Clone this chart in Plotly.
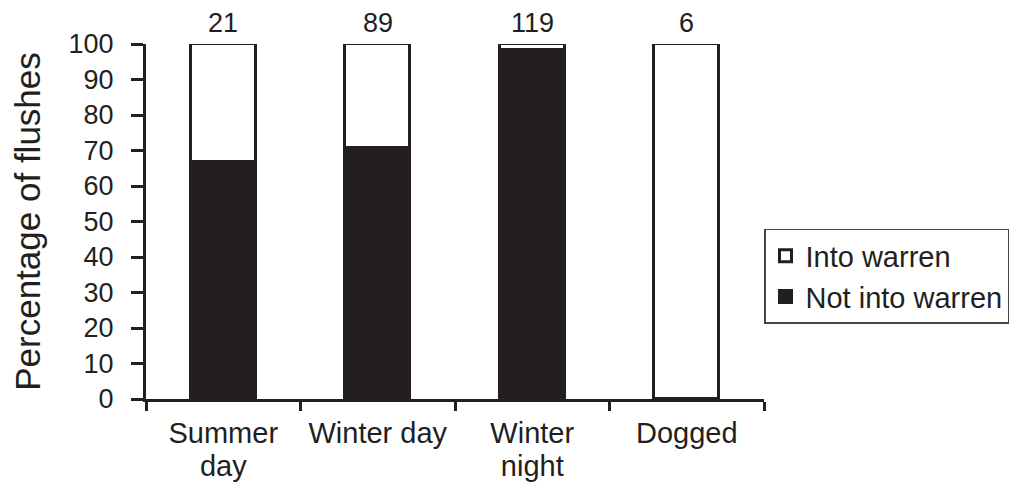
import plotly.graph_objects as go

categories = ["Summer day", "Winter day", "Winter night", "Dogged"]
label_line1 = ["Summer", "Winter day", "Winter", "Dogged"]
label_line2 = ["day", "", "night", ""]
not_into_warren = [66.7, 70.8, 98.3, 0.0]
into_warren = [33.3, 29.2, 1.7, 100.0]
n_flushes = [21, 89, 119, 6]
y_ticks = [0, 10, 20, 30, 40, 50, 60, 70, 80, 90, 100]

INK = "#231f20"
FONT = "Liberation Sans, Arial, sans-serif"

centers = [i + 0.5 for i in range(len(categories))]
bounds = list(range(len(categories) + 1))

fig = go.Figure()
fig.add_trace(go.Bar(
    x=centers, y=not_into_warren, name="Not into warren", width=0.42,
    marker=dict(color=INK, line=dict(color=INK, width=[3 if v > 0 else 0 for v in not_into_warren])),
))
fig.add_trace(go.Bar(
    x=centers, y=into_warren, name="Into warren", width=0.42,
    marker=dict(color="white", line=dict(color=INK, width=3)),
))

for c, n in zip(centers, n_flushes):
    fig.add_annotation(x=c, y=100, text=str(n), showarrow=False,
                       yanchor="bottom", yshift=4,
                       font=dict(family=FONT, size=27, color=INK))

# invisible traces to activate the label axes
fig.add_trace(go.Scatter(x=centers, y=[None] * 4, xaxis="x2", showlegend=False,
                         hoverinfo="skip"))
fig.add_trace(go.Scatter(x=centers, y=[None] * 4, xaxis="x3", showlegend=False,
                         hoverinfo="skip"))

label_axis = dict(
    overlaying="x", anchor="y", side="bottom", range=[0, 4],
    tickvals=centers, ticks="", ticklen=0, automargin=False,
    tickfont=dict(family=FONT, size=29, color=INK),
    showline=False, showgrid=False, zeroline=False,
)

fig.update_layout(
    width=1009, height=476,
    margin=dict(l=138, r=253, t=36, b=85, autoexpand=False),
    paper_bgcolor="white", plot_bgcolor="white",
    barmode="stack", bargap=0,
    font=dict(family=FONT, color=INK),
    showlegend=True,
    legend=dict(
        x=1.0, xanchor="left", y=0.479, yanchor="top",
        traceorder="reversed",
        bordercolor="#444", borderwidth=1.5,
        font=dict(family=FONT, size=29, color=INK),
        bgcolor="white", tracegroupgap=0,
    ),
    xaxis=dict(
        range=[0, 4], tickvals=bounds, showticklabels=False,
        ticks="outside", ticklen=9, tickwidth=3, tickcolor=INK,
        showline=True, linewidth=3, linecolor=INK,
        showgrid=False, zeroline=False, fixedrange=True, automargin=False,
    ),
    xaxis2=dict(label_axis, ticktext=label_line1, ticklabelstandoff=14),
    xaxis3=dict(label_axis, ticktext=label_line2, ticklabelstandoff=47),
    yaxis=dict(
        range=[0, 100], tickvals=y_ticks,
        ticks="outside", ticklen=12, tickwidth=3, tickcolor=INK,
        ticklabelstandoff=12,
        showline=True, linewidth=3, linecolor=INK,
        showgrid=False, zeroline=False, automargin=False,
        tickfont=dict(family=FONT, size=27, color=INK),
        title=dict(text="Percentage of flushes", standoff=20,
                   font=dict(family=FONT, size=35, color=INK)),
    ),
)

fig.write_html("out.html")
